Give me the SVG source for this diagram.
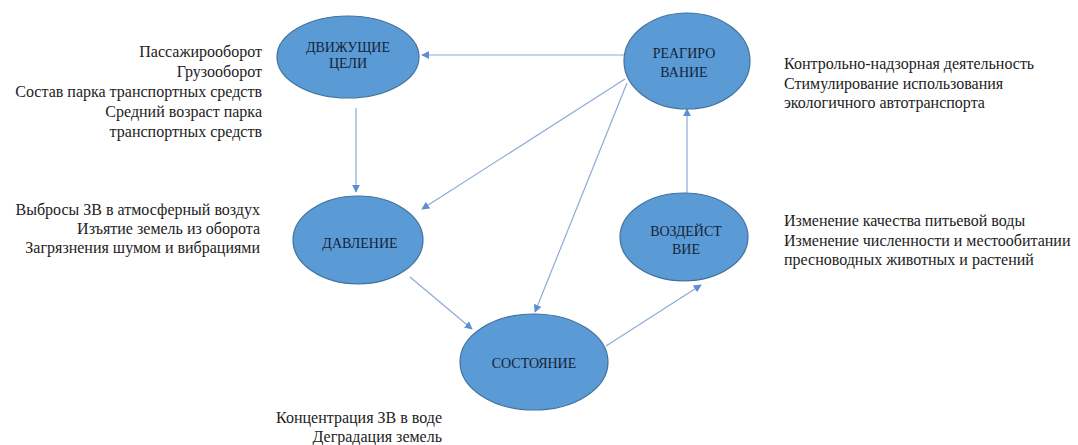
<svg xmlns="http://www.w3.org/2000/svg" width="1078" height="445" viewBox="0 0 1078 445" font-family="Liberation Serif, DejaVu Serif, serif">
  <style>
    .node ellipse { fill: #5b9bd5; stroke: #41719c; stroke-width: 1.2; }
    .node text { font-size: 14px; fill: #14233a; text-anchor: middle; }
    .note text { font-size: 16px; fill: #222222; }
    .right text { text-anchor: end; }
    #connectors line { stroke: #8eaad6; stroke-width: 1.2; fill: none; marker-end: url(#arrow); }
  </style>
  <defs>
    <marker id="arrow" viewBox="0 0 10 10" refX="9" refY="5" markerWidth="8" markerHeight="8" markerUnits="userSpaceOnUse" orient="auto">
      <path d="M0,0 L10,5 L0,10 z" fill="#5b8fd0"/>
    </marker>
  </defs>

  <rect width="1078" height="445" fill="#ffffff"/>

  <!-- connectors -->
  <g id="connectors">
    <line x1="624" y1="55" x2="422" y2="55"/>
    <line x1="356" y1="108" x2="356" y2="192"/>
    <line x1="625" y1="79" x2="422" y2="209"/>
    <line x1="627" y1="83" x2="535" y2="312"/>
    <line x1="410" y1="277" x2="472" y2="329"/>
    <line x1="606" y1="346" x2="701" y2="285"/>
    <line x1="687" y1="193" x2="687" y2="109"/>
  </g>

  <!-- nodes -->
  <g id="driving-forces" class="node">
    <ellipse cx="348" cy="57" rx="71" ry="41"/>
    <text x="348" y="52">ДВИЖУЩИЕ</text>
    <text x="348" y="68">ЦЕЛИ</text>
  </g>
  <g id="response" class="node">
    <ellipse cx="687" cy="61" rx="63" ry="48"/>
    <text x="684" y="58">РЕАГИРО</text>
    <text x="684" y="77">ВАНИЕ</text>
  </g>
  <g id="pressure" class="node">
    <ellipse cx="358" cy="240" rx="65" ry="44"/>
    <text x="360" y="248">ДАВЛЕНИЕ</text>
  </g>
  <g id="impact" class="node">
    <ellipse cx="684" cy="237" rx="64" ry="44"/>
    <text x="686" y="236">ВОЗДЕЙСТ</text>
    <text x="686" y="254">ВИЕ</text>
  </g>
  <g id="state" class="node">
    <ellipse cx="534" cy="362" rx="74" ry="48"/>
    <text x="534" y="368">СОСТОЯНИЕ</text>
  </g>

  <!-- indicator lists -->
  <g id="driving-notes" class="note right">
    <text x="262" y="57">Пассажирооборот</text>
    <text x="262" y="77">Грузооборот</text>
    <text x="262" y="97">Состав парка транспортных средств</text>
    <text x="262" y="117">Средний возраст парка</text>
    <text x="262" y="137">транспортных средств</text>
  </g>
  <g id="pressure-notes" class="note right">
    <text x="260" y="215">Выбросы ЗВ в атмосферный воздух</text>
    <text x="260" y="234">Изъятие земель из оборота</text>
    <text x="260" y="253">Загрязнения шумом и вибрациями</text>
  </g>
  <g id="response-notes" class="note">
    <text x="784" y="69">Контрольно-надзорная деятельность</text>
    <text x="784" y="89">Стимулирование использования</text>
    <text x="784" y="108">экологичного автотранспорта</text>
  </g>
  <g id="impact-notes" class="note">
    <text x="784" y="226">Изменение качества питьевой воды</text>
    <text x="784" y="246">Изменение численности и местообитании</text>
    <text x="784" y="265">пресноводных животных и растений</text>
  </g>
  <g id="state-notes" class="note right">
    <text x="442" y="423">Концентрация ЗВ в воде</text>
    <text x="442" y="442">Деградация земель</text>
  </g>
</svg>
